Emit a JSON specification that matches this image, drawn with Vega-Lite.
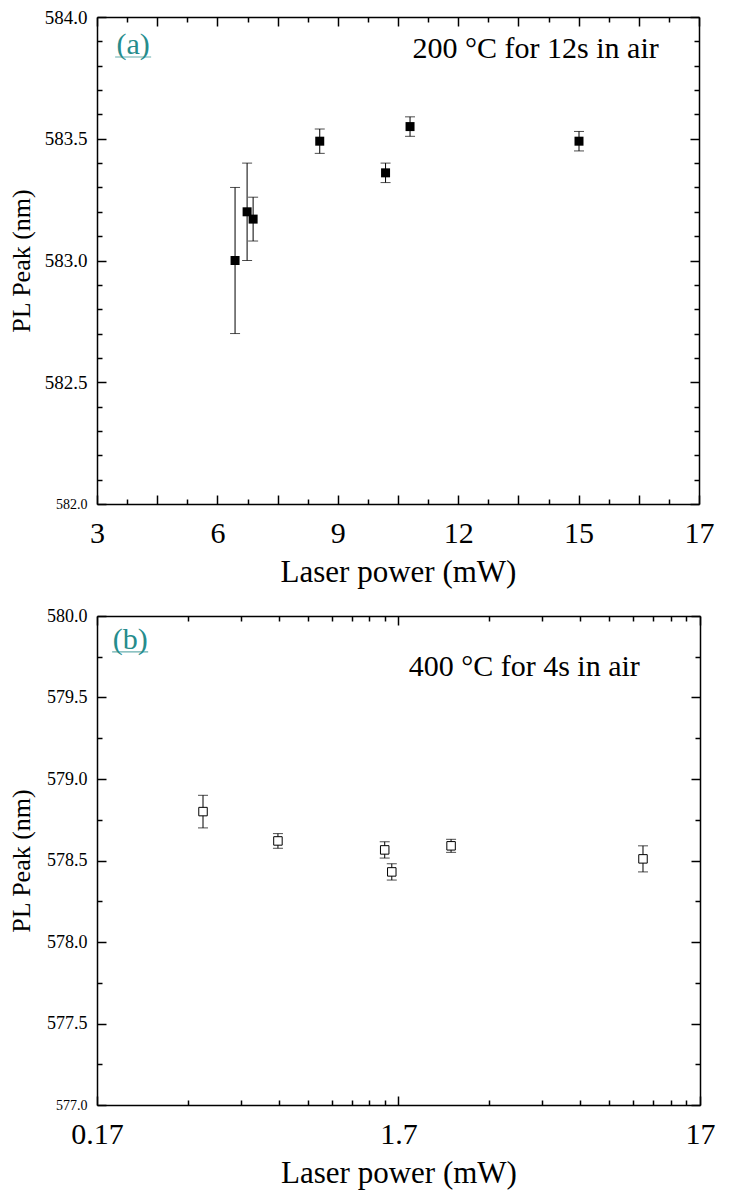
{
  "$schema": "https://vega.github.io/schema/vega-lite/v6.json",
  "background": "white",
  "padding": {"left": 8, "top": 8, "right": 10, "bottom": 4},
  "spacing": 20,
  "config": {
    "font": "Liberation Serif, Times New Roman, Times, serif",
    "view": {"stroke": null},
    "axis": {
      "grid": false,
      "domainColor": "black",
      "domainWidth": 1.5,
      "tickColor": "black",
      "tickWidth": 1.5,
      "labelColor": "black",
      "titleColor": "black",
      "labelFont": "Liberation Serif, Times New Roman, Times, serif",
      "titleFont": "Liberation Serif, Times New Roman, Times, serif",
      "titleFontWeight": "normal"
    }
  },
  "datasets": {
    "a": [
      {"power": 6.44, "peak": 583.00, "low": 582.70, "high": 583.30},
      {"power": 6.74, "peak": 583.20, "low": 583.00, "high": 583.40},
      {"power": 6.89, "peak": 583.17, "low": 583.08, "high": 583.26},
      {"power": 8.55, "peak": 583.49, "low": 583.44, "high": 583.54},
      {"power": 10.19, "peak": 583.36, "low": 583.32, "high": 583.40},
      {"power": 10.80, "peak": 583.55, "low": 583.51, "high": 583.59},
      {"power": 15.01, "peak": 583.49, "low": 583.45, "high": 583.53}
    ],
    "b": [
      {"power": 0.382, "peak": 578.80, "low": 578.70, "high": 578.90},
      {"power": 0.677, "peak": 578.62, "low": 578.575, "high": 578.665},
      {"power": 1.53, "peak": 578.565, "low": 578.515, "high": 578.615},
      {"power": 1.615, "peak": 578.43, "low": 578.38, "high": 578.48},
      {"power": 2.54, "peak": 578.59, "low": 578.55, "high": 578.63},
      {"power": 11.0, "peak": 578.51, "low": 578.43, "high": 578.59}
    ]
  },
  "vconcat": [
    {
      "width": 602,
      "height": 487,
      "resolve": {"axis": {"x": "independent", "y": "independent"}},
      "layer": [
        {
          "data": {"name": "a"},
          "mark": {"type": "rule", "color": "black", "strokeWidth": 1},
          "encoding": {
            "x": {
              "field": "power", "type": "quantitative",
              "scale": {"domain": [3, 18], "nice": false, "zero": false},
              "axis": {
                "orient": "bottom",
                "values": [3, 3.75, 4.5, 5.25, 6, 6.75, 7.5, 8.25, 9, 9.75, 10.5, 11.25, 12, 12.75, 13.5, 14.25, 15, 15.75, 16.5, 17.25, 18],
                "labelExpr": "datum.value == 18 ? '17' : (datum.value % 3 == 0 ? format(datum.value, 'd') : '')",
                "tickSize": {"condition": {"test": "datum.value % 1.5 == 0", "value": -9}, "value": -5},
                "labelFontSize": 30,
                "labelPadding": 23,
                "labelFlush": false,
                "labelOverlap": false,
                "title": "Laser power (mW)",
                "titleFontSize": 31,
                "titlePadding": 5
              }
            },
            "y": {
              "field": "low", "type": "quantitative",
              "scale": {"domain": [582, 584], "nice": false, "zero": false},
              "axis": {
                "orient": "left",
                "values": [582.0, 582.1, 582.2, 582.3, 582.4, 582.5, 582.6, 582.7, 582.8, 582.9, 583.0, 583.1, 583.2, 583.3, 583.4, 583.5, 583.6, 583.7, 583.8, 583.9, 584.0],
                "labelExpr": "abs(datum.value * 2 - round(datum.value * 2)) < 0.01 ? format(datum.value, '.1f') : ''",
                "tickSize": {"condition": {"test": "abs(datum.value * 2 - round(datum.value * 2)) < 0.01", "value": -9}, "value": -5},
                "labelFontSize": {"condition": {"test": "datum.value < 582.05", "value": 14}, "value": 19},
                "labelPadding": 19,
                "labelFlush": false,
                "labelOverlap": false,
                "title": "PL Peak (nm)",
                "titleFontSize": 26,
                "titlePadding": 10
              }
            },
            "y2": {"field": "high"}
          }
        },
        {
          "data": {"name": "a"},
          "mark": {"type": "tick", "orient": "horizontal", "size": 10, "thickness": 1, "color": "black"},
          "encoding": {
            "x": {"field": "power", "type": "quantitative", "axis": null},
            "y": {"field": "low", "type": "quantitative", "axis": null}
          }
        },
        {
          "data": {"name": "a"},
          "mark": {"type": "tick", "orient": "horizontal", "size": 10, "thickness": 1, "color": "black"},
          "encoding": {
            "x": {"field": "power", "type": "quantitative", "axis": null},
            "y": {"field": "high", "type": "quantitative", "axis": null}
          }
        },
        {
          "data": {"name": "a"},
          "mark": {"type": "square", "size": 81, "filled": true, "color": "black", "opacity": 1},
          "encoding": {
            "x": {
              "field": "power", "type": "quantitative",
              "axis": {
                "orient": "top",
                "values": [3, 3.75, 4.5, 5.25, 6, 6.75, 7.5, 8.25, 9, 9.75, 10.5, 11.25, 12, 12.75, 13.5, 14.25, 15, 15.75, 16.5, 17.25, 18],
                "labels": false,
                "tickSize": {"condition": {"test": "datum.value % 1.5 == 0", "value": -9}, "value": -5},
                "title": null
              }
            },
            "y": {
              "field": "peak", "type": "quantitative",
              "axis": {
                "orient": "right",
                "values": [582.0, 582.1, 582.2, 582.3, 582.4, 582.5, 582.6, 582.7, 582.8, 582.9, 583.0, 583.1, 583.2, 583.3, 583.4, 583.5, 583.6, 583.7, 583.8, 583.9, 584.0],
                "labels": false,
                "tickSize": {"condition": {"test": "abs(datum.value * 2 - round(datum.value * 2)) < 0.01", "value": -9}, "value": -5},
                "title": null
              }
            }
          }
        },
        {
          "data": {"values": [{"note": "(a)", "px": 3.9, "py": 583.885}]},
          "layer": [
            {
              "mark": {"type": "text", "fontSize": 30, "color": "#268c8c", "align": "center", "baseline": "middle"},
              "encoding": {
                "x": {"field": "px", "type": "quantitative", "axis": null},
                "y": {"field": "py", "type": "quantitative", "axis": null},
                "text": {"field": "note"}
              }
            },
            {
              "mark": {"type": "tick", "orient": "horizontal", "size": 36, "thickness": 1.2, "color": "#268c8c", "yOffset": 12},
              "encoding": {
                "x": {"field": "px", "type": "quantitative", "axis": null},
                "y": {"field": "py", "type": "quantitative", "axis": null}
              }
            }
          ]
        },
        {
          "data": {"values": [{"note": "200 °C for 12s in air", "px": 13.93, "py": 583.87}]},
          "mark": {"type": "text", "fontSize": 30, "color": "black", "align": "center", "baseline": "middle"},
          "encoding": {
            "x": {"field": "px", "type": "quantitative", "axis": null},
            "y": {"field": "py", "type": "quantitative", "axis": null},
            "text": {"field": "note"}
          }
        }
      ]
    },
    {
      "width": 603,
      "height": 489,
      "resolve": {"axis": {"x": "independent", "y": "independent"}},
      "layer": [
        {
          "data": {"name": "b"},
          "mark": {"type": "rule", "color": "black", "strokeWidth": 1},
          "encoding": {
            "x": {
              "field": "power", "type": "quantitative",
              "scale": {"type": "log", "domain": [0.17, 17], "nice": false},
              "axis": {
                "orient": "bottom",
                "values": [0.17, 0.34, 0.51, 0.68, 0.85, 1.02, 1.19, 1.36, 1.53, 1.7, 3.4, 5.1, 6.8, 8.5, 10.2, 11.9, 13.6, 15.3, 17],
                "labelExpr": "(datum.value == 0.17 || datum.value == 1.7 || datum.value == 17) ? ('' + datum.value) : ''",
                "tickSize": {"condition": {"test": "datum.value == 0.17 || datum.value == 1.7 || datum.value == 17", "value": -9}, "value": -5},
                "labelFontSize": 30,
                "labelPadding": 23,
                "labelFlush": false,
                "labelOverlap": false,
                "title": "Laser power (mW)",
                "titleFontSize": 31,
                "titlePadding": 5
              }
            },
            "y": {
              "field": "low", "type": "quantitative",
              "scale": {"domain": [577, 580], "nice": false, "zero": false},
              "axis": {
                "orient": "left",
                "values": [577, 577.25, 577.5, 577.75, 578, 578.25, 578.5, 578.75, 579, 579.25, 579.5, 579.75, 580],
                "labelExpr": "datum.value % 0.5 == 0 ? format(datum.value, '.1f') : ''",
                "tickSize": {"condition": {"test": "datum.value % 0.5 == 0", "value": -9}, "value": -5},
                "labelFontSize": {"condition": {"test": "datum.value < 577.1", "value": 14}, "value": 18},
                "labelPadding": 19,
                "labelFlush": false,
                "labelOverlap": false,
                "title": "PL Peak (nm)",
                "titleFontSize": 26,
                "titlePadding": 12
              }
            },
            "y2": {"field": "high"}
          }
        },
        {
          "data": {"name": "b"},
          "mark": {"type": "tick", "orient": "horizontal", "size": 10, "thickness": 1, "color": "black"},
          "encoding": {
            "x": {"field": "power", "type": "quantitative", "axis": null},
            "y": {"field": "low", "type": "quantitative", "axis": null}
          }
        },
        {
          "data": {"name": "b"},
          "mark": {"type": "tick", "orient": "horizontal", "size": 10, "thickness": 1, "color": "black"},
          "encoding": {
            "x": {"field": "power", "type": "quantitative", "axis": null},
            "y": {"field": "high", "type": "quantitative", "axis": null}
          }
        },
        {
          "data": {"name": "b"},
          "mark": {"type": "square", "size": 72, "filled": false, "fill": "white", "stroke": "black", "strokeWidth": 1, "opacity": 1},
          "encoding": {
            "x": {
              "field": "power", "type": "quantitative",
              "axis": {
                "orient": "top",
                "values": [0.17, 0.34, 0.51, 0.68, 0.85, 1.02, 1.19, 1.36, 1.53, 1.7, 3.4, 5.1, 6.8, 8.5, 10.2, 11.9, 13.6, 15.3, 17],
                "labels": false,
                "tickSize": {"condition": {"test": "datum.value == 0.17 || datum.value == 1.7 || datum.value == 17", "value": -9}, "value": -5},
                "title": null
              }
            },
            "y": {
              "field": "peak", "type": "quantitative",
              "axis": {
                "orient": "right",
                "values": [577, 577.25, 577.5, 577.75, 578, 578.25, 578.5, 578.75, 579, 579.25, 579.5, 579.75, 580],
                "labels": false,
                "tickSize": {"condition": {"test": "datum.value % 0.5 == 0", "value": -9}, "value": -5},
                "title": null
              }
            }
          }
        },
        {
          "data": {"values": [{"note": "(b)", "px": 0.219, "py": 579.853}]},
          "layer": [
            {
              "mark": {"type": "text", "fontSize": 30, "color": "#268c8c", "align": "center", "baseline": "middle"},
              "encoding": {
                "x": {"field": "px", "type": "quantitative", "axis": null},
                "y": {"field": "py", "type": "quantitative", "axis": null},
                "text": {"field": "note"}
              }
            },
            {
              "mark": {"type": "tick", "orient": "horizontal", "size": 36, "thickness": 1.2, "color": "#268c8c", "yOffset": 12},
              "encoding": {
                "x": {"field": "px", "type": "quantitative", "axis": null},
                "y": {"field": "py", "type": "quantitative", "axis": null}
              }
            }
          ]
        },
        {
          "data": {"values": [{"note": "400 °C for 4s in air", "px": 4.44, "py": 579.69}]},
          "mark": {"type": "text", "fontSize": 30, "color": "black", "align": "center", "baseline": "middle"},
          "encoding": {
            "x": {"field": "px", "type": "quantitative", "axis": null},
            "y": {"field": "py", "type": "quantitative", "axis": null},
            "text": {"field": "note"}
          }
        }
      ]
    }
  ]
}
